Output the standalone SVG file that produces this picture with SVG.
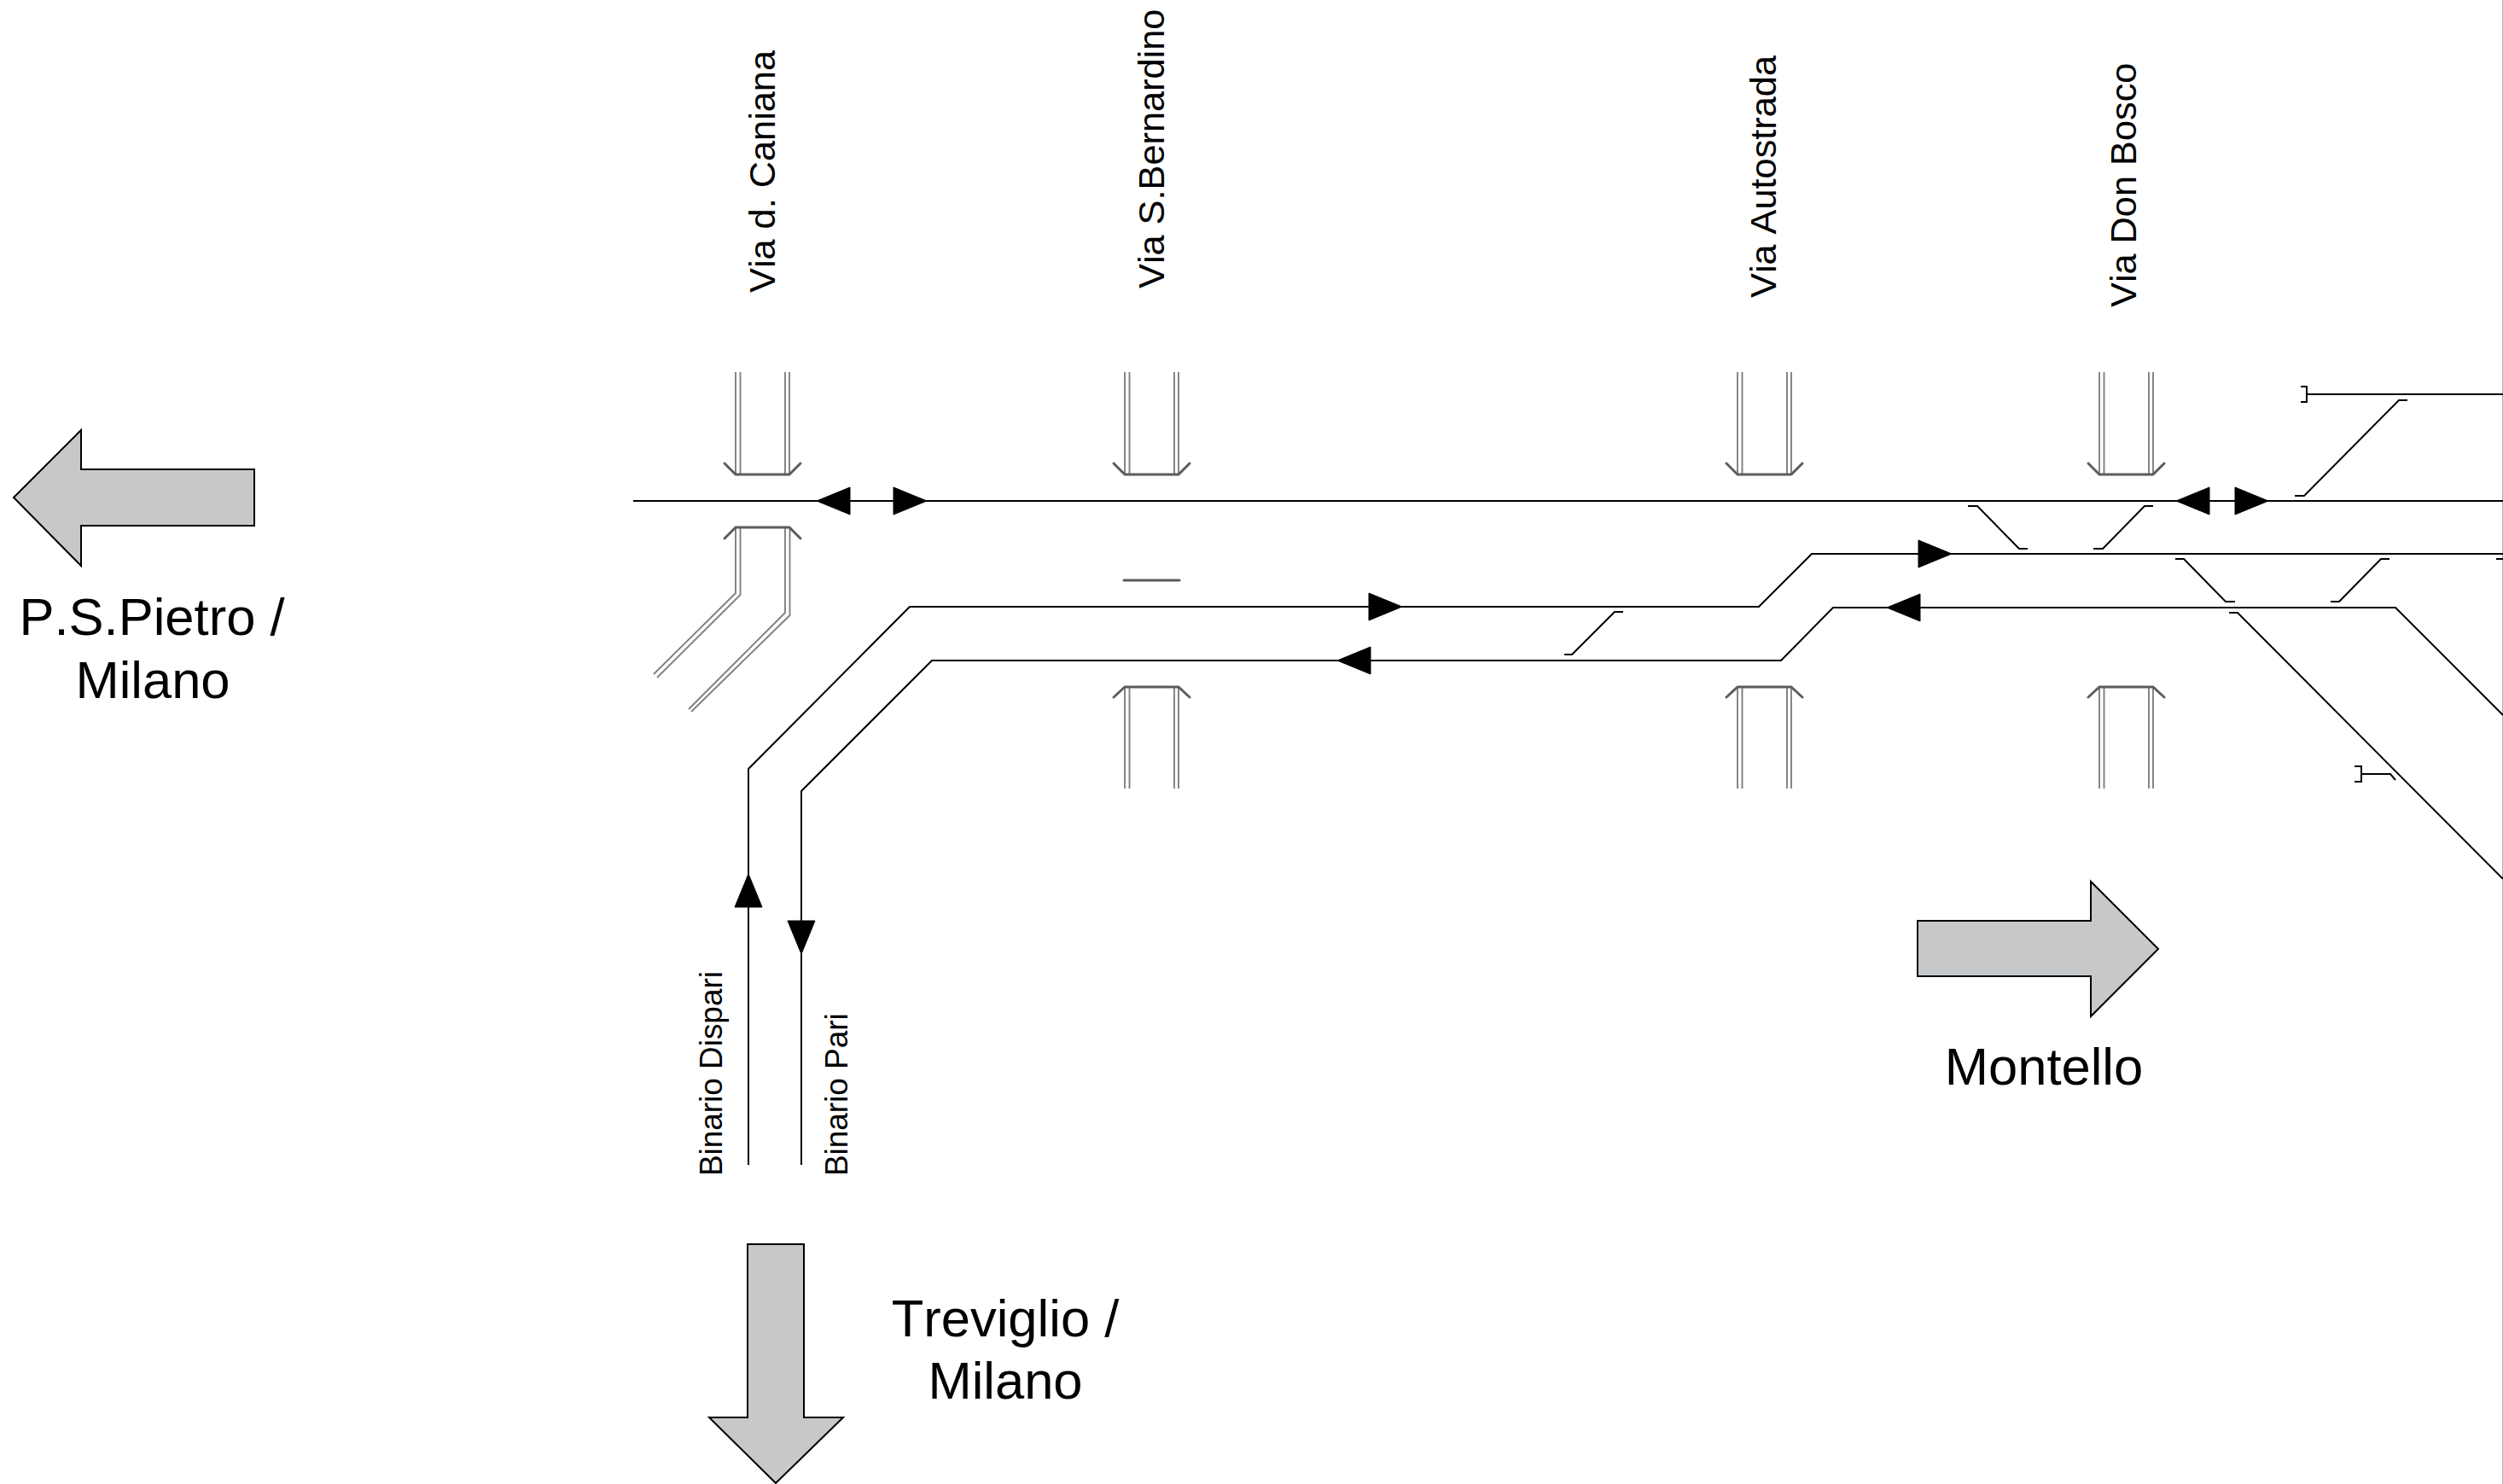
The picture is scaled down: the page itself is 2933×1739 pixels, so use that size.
<svg xmlns="http://www.w3.org/2000/svg" width="2933" height="1739" viewBox="0 0 2933 1739">
<style>
text{font-family:"Liberation Sans",Arial,sans-serif;fill:#000;font-kerning:none}
.lbl{font-size:61.5px;text-anchor:middle}
.via{font-size:43.3px}
.bin{font-size:36.9px}
.track{fill:none;stroke:#000;stroke-width:2}
.stub{fill:none;stroke:#000;stroke-width:2}
.rail{fill:none;stroke:#808080;stroke-width:1.9}
.deck{fill:none;stroke:#5c5c5c;stroke-width:3;stroke-linecap:round;stroke-linejoin:round}
.big{fill:#c6c8ca;stroke:#000;stroke-width:2}
.head{fill:#000;stroke:#000;stroke-width:1}
</style>
<defs>
<polygon id="ah" class="head" points="0,0 -39,-16 -39,16"/>
<g id="road-down">
<path class="rail" d="M0,-120V0M5.500,-120V0M58,-120V0M63,-120V0"/>
<path class="deck" d="M-13,-13L0,0H63L76,-13"/>
</g>
<g id="road-up">
<path class="rail" d="M0,119V0M5.500,119V0M58,119V0M63,119V0"/>
<path class="deck" d="M-13,12L0,0H63L76,12"/>
</g>
</defs>
<rect width="2933" height="1739" fill="#fff"/>
<g id="edge"><line x1="2932.500" y1="0" x2="2932.500" y2="1739" stroke="#b0b0b0" stroke-width="1"/></g>

<g id="road-caniana">
<use href="#road-down" x="862" y="556"/>
<path class="rail" d="M862,618V695L766,790M867.500,618V697L770,794M920,618V718L807,831M925.500,618V721L810,834"/>
<path class="deck" d="M849,631L862,618H925L938,631"/>
<text class="via" transform="translate(908,343) rotate(-90)">Via d. Caniana</text>
</g>
<g id="road-bernardino">
<use href="#road-down" x="1318" y="556"/>
<line class="deck" x1="1317" y1="680" x2="1382" y2="680"/>
<use href="#road-up" x="1318" y="805"/>
<text class="via" transform="translate(1364,338) rotate(-90)">Via S.Bernardino</text>
</g>
<g id="road-autostrada">
<use href="#road-down" x="2036" y="556"/>
<use href="#road-up" x="2036" y="805"/>
<text class="via" transform="translate(2081,349) rotate(-90)">Via Autostrada</text>
</g>
<g id="road-donbosco">
<use href="#road-down" x="2460" y="556"/>
<use href="#road-up" x="2460" y="805"/>
<text class="via" transform="translate(2503,360) rotate(-90)">Via Don Bosco</text>
</g>

<g id="connectors">
<path class="track" d="M742,587H2933"/>
<path class="track" d="M877,1365V901L1066,711H2061L2123,649H2933"/>
<path class="track" d="M939,1365V927L1092,774H2087L2148,712H2807L2933,838"/>
<path class="track" d="M2703,462H2933"/>
<path class="stub" d="M2696,453H2703V471H2696"/>
<path class="stub" d="M2689,581H2700L2811,469H2821"/>
<path class="stub" d="M1833,767H1842L1892,717H1902"/>
<path class="stub" d="M2306,593H2317L2366,643H2376"/>
<path class="stub" d="M2453,643H2464L2513,593H2523"/>
<path class="stub" d="M2549,655H2559L2608,705H2619"/>
<path class="stub" d="M2731,705H2741L2790,655H2800"/>
<path class="stub" d="M2925,655H2933"/>
<path class="stub" d="M2612,718H2622L2933,1030"/>
<path class="stub" d="M2759,898H2767V916H2759"/>
<path class="stub" d="M2767,907H2801L2807,914"/>
<use href="#ah" transform="translate(957,587) rotate(180)"/>
<use href="#ah" transform="translate(1086,587)"/>
<use href="#ah" transform="translate(2550,587) rotate(180)"/>
<use href="#ah" transform="translate(2658,587)"/>
<use href="#ah" transform="translate(1643,711)"/>
<use href="#ah" transform="translate(1567,774) rotate(180)"/>
<use href="#ah" transform="translate(2287,649)"/>
<use href="#ah" transform="translate(2211,712) rotate(180)"/>
<use href="#ah" transform="translate(877,1024) rotate(-90)"/>
<use href="#ah" transform="translate(939,1118) rotate(90)"/>
</g>

<g id="binario-dispari"><text class="bin" transform="translate(846,1378) rotate(-90)">Binario Dispari</text></g>
<g id="binario-pari"><text class="bin" transform="translate(993,1378) rotate(-90)">Binario Pari</text></g>

<g id="dir-pietro">
<polygon class="big" points="16,583 95,504 95,550 298,550 298,616 95,616 95,663"/>
<text class="lbl" x="178" y="744">P.S.Pietro /</text>
<text class="lbl" x="179" y="818">Milano</text>
</g>
<g id="dir-montello">
<polygon class="big" points="2247,1079 2450,1079 2450,1033 2529,1112 2450,1191 2450,1144 2247,1144"/>
<text class="lbl" x="2395" y="1271">Montello</text>
</g>
<g id="dir-treviglio">
<polygon class="big" points="876,1458 942,1458 942,1661 988,1661 909,1738 831,1661 876,1661"/>
<text class="lbl" x="1178" y="1566">Treviglio /</text>
<text class="lbl" x="1178" y="1639">Milano</text>
</g>
</svg>
